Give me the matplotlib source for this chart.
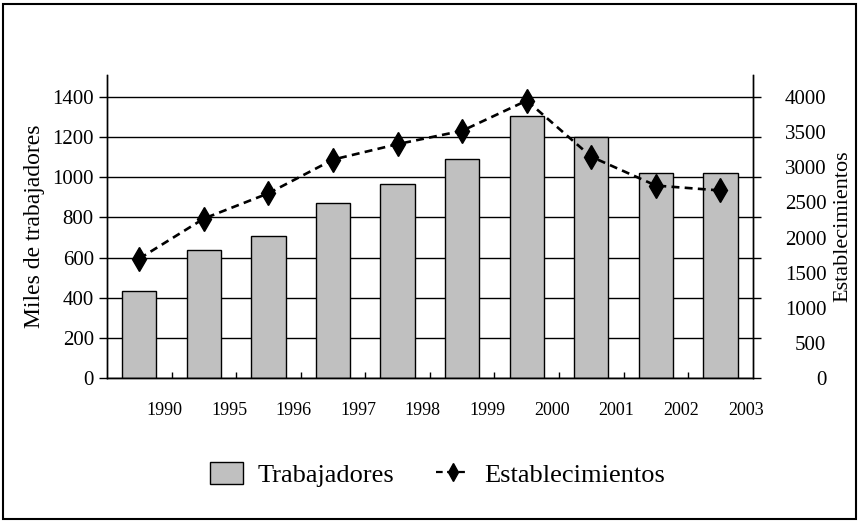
import matplotlib
matplotlib.use("Agg")
import matplotlib.pyplot as plt
from matplotlib.patches import Rectangle
from matplotlib.lines import Line2D
from matplotlib.patches import Patch
import numpy as np

plt.rcParams['font.family'] = ['Liberation Serif', 'DejaVu Serif']

years = ["1990", "1995", "1996", "1997", "1998", "1999", "2000", "2001", "2002", "2003"]
trabajadores = [435, 640, 710, 873, 966, 1089, 1307, 1202, 1022, 1022]
establecimientos = [1700, 2270, 2630, 3110, 3330, 3520, 3950, 3150, 2740, 2670]

fig = plt.figure(figsize=(8.61, 5.23), dpi=100)
ax = fig.add_axes([0.1243, 0.2772, 0.750, 0.5794])
ax2 = ax.twinx()

x = np.arange(len(years))
ax.set_axisbelow(True)
ax.bar(x, trabajadores, width=0.53, color="#c0c0c0", edgecolor="black", linewidth=1, zorder=2)
ax2.plot(x, establecimientos, color="black", linestyle=(0, (3, 2)), linewidth=1.9,
         marker="d", markersize=12, markerfacecolor="black", markeredgecolor="black")

ax.set_xlim(-0.5, len(years) - 0.5)
ax.set_ylim(0, 1510)
ax2.set_ylim(0, 1510 * 4000 / 1400)

ax.set_yticks(range(0, 1401, 200))
ax2.set_yticks(range(0, 4001, 500))
ax.yaxis.grid(True, color="black", linewidth=1)

ax.set_xticks(x + 0.39)
ax.set_xticklabels(years, fontsize=13)
ax.set_xticks(x[:-1] + 0.5, minor=True)
ax.tick_params(axis="x", which="major", length=0, pad=17)
ax.tick_params(axis="x", which="minor", direction="in", length=4, width=1)

ax.tick_params(axis="y", which="major", direction="out", length=6, width=1,
               labelsize=15, left=True, right=True)
ax2.tick_params(axis="y", length=0, labelsize=15, pad=53)
for lbl in ax2.get_yticklabels():
    lbl.set_horizontalalignment("right")

for a in (ax, ax2):
    a.spines["top"].set_visible(False)
    for s in ("left", "right", "bottom"):
        a.spines[s].set_linewidth(1)

ax.set_ylabel("Miles de trabajadores", fontsize=17, labelpad=5)
ax2.set_ylabel("Establecimientos", fontsize=16, labelpad=5)

handles = [Patch(facecolor="#c0c0c0", edgecolor="black", linewidth=1),
           Line2D([], [], color="black", linestyle=(0, (3, 2)), linewidth=1.6,
                  marker="d", markersize=9, markerfacecolor="black")]
fig.legend(handles, ["Trabajadores", "Establecimientos"], loc="center",
           bbox_to_anchor=(0.508, 0.092), ncol=2, frameon=False, fontsize=19,
           handlelength=1.25, handleheight=0.9, columnspacing=1.6, handletextpad=0.55)

fig.add_artist(Rectangle((0.004, 0.008), 0.99, 0.985, transform=fig.transFigure,
                         fill=False, edgecolor="black", linewidth=1.5))

fig.savefig("out.png", dpi=100)
